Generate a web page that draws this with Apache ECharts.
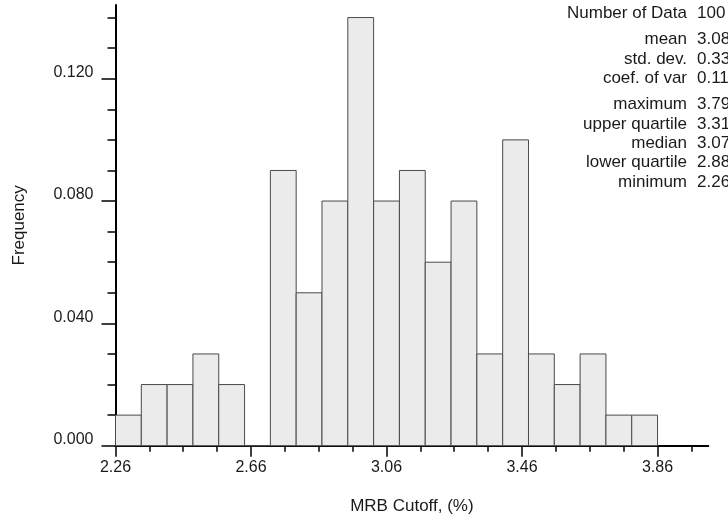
<!DOCTYPE html>
<html>
<head>
<meta charset="utf-8">
<script src="https://cdn.jsdelivr.net/npm/echarts@6/dist/echarts.min.js"></script>
<style>
  html, body { margin: 0; padding: 0; background: #fff; }
  #chart { width: 728px; height: 521px; }
</style>
</head>
<body>
<div id="chart"></div>
<script>
// Histogram of MRB cutoff values: 21 equal-width bins starting at the minimum
var binLow = 2.26;
var binWidth = 0.0762;
var frequency = [0.01, 0.02, 0.02, 0.03, 0.02, 0.00, 0.09, 0.05, 0.08, 0.14,
                 0.08, 0.09, 0.06, 0.08, 0.03, 0.10, 0.03, 0.02, 0.03, 0.01, 0.01];

// Axis ticks
var xMajorTicks = [2.26, 2.66, 3.06, 3.46, 3.86];
var xMinorTicks = [2.36, 2.46, 2.56, 2.76, 2.86, 2.96, 3.16, 3.26, 3.36, 3.56, 3.66, 3.76, 3.96];
var yMajorTicks = [0, 0.04, 0.08, 0.12];
var yMinorTicks = [0.01, 0.02, 0.03, 0.05, 0.06, 0.07, 0.09, 0.10, 0.11, 0.13, 0.14];

// Summary statistics block
var statLabels = ['Number of Data', 'mean', 'std. dev.', 'coef. of var',
                  'maximum', 'upper quartile', 'median', 'lower quartile', 'minimum'];
var statValues = ['100', '3.08', '0.33', '0.11', '3.79', '3.31', '3.07', '2.88', '2.26'];
var statGroups = [0, 1, 1, 1, 2, 2, 2, 2, 2];

var FONT = '"Liberation Sans", Arial, Helvetica, sans-serif';
var TEXT = '#1a1a1a';

var bins = frequency.map(function (f, i) {
  var x0 = binLow + i * binWidth;
  return [x0, x0 + binWidth, f];
});

var statGraphics = [];
statLabels.forEach(function (lab, i) {
  var y = 13.5 + i * 19.3 + statGroups[i] * 7;
  statGraphics.push({
    type: 'text', left: null, x: 687, y: y,
    style: { text: lab, fill: TEXT, font: '17px ' + FONT, textAlign: 'right', textVerticalAlign: 'middle' }
  });
  statGraphics.push({
    type: 'text', x: 697, y: y,
    style: { text: statValues[i], fill: TEXT, font: '17px ' + FONT, textAlign: 'left', textVerticalAlign: 'middle' }
  });
});

var xRange = { min: 2.26, max: 4.01 };
var yRange = { min: 0, max: 0.1441 };

var option = {
  backgroundColor: '#ffffff',
  animation: false,
  textStyle: { fontFamily: FONT },
  grid: { left: 115.5, right: 19.7, top: 5, bottom: 75.3, containLabel: false },
  xAxis: [
    {
      type: 'value', min: xRange.min, max: xRange.max, position: 'bottom',
      name: 'MRB Cutoff, (%)', nameLocation: 'middle', nameGap: 52,
      nameTextStyle: { fontSize: 17, color: TEXT, fontFamily: FONT },
      axisLine: { show: true, lineStyle: { color: '#000', width: 2 } },
      axisTick: { show: true, customValues: xMajorTicks, length: 11, lineStyle: { color: '#000', width: 1.5 } },
      axisLabel: {
        show: true, customValues: xMajorTicks, margin: 14, fontSize: 16, color: TEXT, fontFamily: FONT,
        formatter: function (v) { return v.toFixed(2); }
      },
      splitLine: { show: false }
    },
    {
      type: 'value', min: xRange.min, max: xRange.max, position: 'bottom', offset: 0,
      axisLine: { show: false },
      axisTick: { show: true, customValues: xMinorTicks, length: 6, lineStyle: { color: '#000', width: 1.5 } },
      axisLabel: { show: false },
      splitLine: { show: false }
    }
  ],
  yAxis: [
    {
      type: 'value', min: yRange.min, max: yRange.max, position: 'left',
      name: 'Frequency', nameLocation: 'middle', nameGap: 88,
      nameTextStyle: { fontSize: 17, color: TEXT, fontFamily: FONT },
      axisLine: { show: true, lineStyle: { color: '#000', width: 2 } },
      axisTick: { show: true, customValues: yMajorTicks, length: 14, lineStyle: { color: '#000', width: 1.5 } },
      axisLabel: {
        show: true, customValues: yMajorTicks, margin: 22, fontSize: 16, color: TEXT, fontFamily: FONT,
        verticalAlign: 'bottom', lineHeight: 12,
        formatter: function (v) { return v.toFixed(3); }
      },
      splitLine: { show: false }
    },
    {
      type: 'value', min: yRange.min, max: yRange.max, position: 'left', offset: 0,
      axisLine: { show: false },
      axisTick: { show: true, customValues: yMinorTicks, length: 8, lineStyle: { color: '#000', width: 1.5 } },
      axisLabel: { show: false },
      splitLine: { show: false }
    }
  ],
  series: [
    {
      type: 'custom',
      xAxisIndex: 0, yAxisIndex: 0,
      data: bins,
      encode: { x: [0, 1], y: 2 },
      renderItem: function (params, api) {
        var topLeft = api.coord([api.value(0), api.value(2)]);
        var bottomRight = api.coord([api.value(1), 0]);
        return {
          type: 'rect',
          shape: {
            x: topLeft[0], y: topLeft[1],
            width: bottomRight[0] - topLeft[0],
            height: bottomRight[1] - topLeft[1]
          },
          style: { fill: '#ebebeb', stroke: '#4a4a4a', lineWidth: 1 }
        };
      }
    }
  ],
  graphic: statGraphics
};

var chart = echarts.init(document.getElementById('chart'), null, { renderer: 'canvas' });
chart.setOption(option);
</script>
</body>
</html>
